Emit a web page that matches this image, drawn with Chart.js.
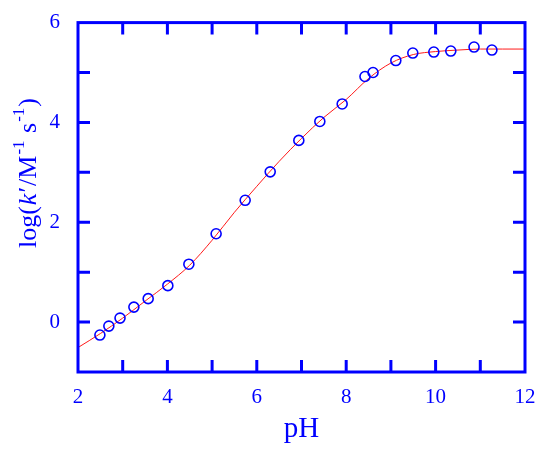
<!DOCTYPE html>
<html>
<head>
<meta charset="utf-8">
<script src="https://cdn.jsdelivr.net/npm/chart.js@4/dist/chart.umd.min.js"></script>
<style>
  html, body { margin: 0; padding: 0; background: #fff; }
  #wrap { width: 550px; height: 459px; }
</style>
</head>
<body>
<div id="wrap"><canvas id="grafico"></canvas></div>
<script>
// Pontos medidos
const pH = [2.49, 2.69, 2.94, 3.25, 3.57, 4.01, 4.48, 5.09, 5.74, 6.30, 6.94, 7.41, 7.91, 8.42, 8.60, 9.11, 9.49, 9.96, 10.34, 10.86, 11.26];
const logK = [-0.26, -0.08, 0.08, 0.30, 0.47, 0.73, 1.16, 1.77, 2.44, 3.01, 3.64, 4.02, 4.37, 4.92, 5.00, 5.24, 5.39, 5.41, 5.43, 5.51, 5.45];

// Curva ajustada
const ajustePH = [2.0, 2.5, 3.0, 3.5, 4.0, 4.5, 5.0, 5.5, 6.0, 6.5, 7.0, 7.5, 8.0, 8.5, 9.0, 9.5, 10.0, 10.5, 11.0, 11.5, 12.0];
const ajusteLogK = [-0.51, -0.23, 0.08, 0.42, 0.76, 1.14, 1.64, 2.20, 2.72, 3.22, 3.68, 4.10, 4.46, 4.88, 5.19, 5.36, 5.42, 5.45, 5.47, 5.47, 5.47];

// Rótulos dos eixos
const xTicks = [2, 4, 6, 8, 10, 12];
const yTicks = [0, 2, 4, 6];

const azul = '#0000ff';
const fonte = '"Liberation Serif", "Times New Roman", serif';

// Moldura com marcas internas
const moldura = {
    id: 'moldura',
    afterDraw(chart) {
        const { ctx, chartArea: a, scales } = chart;
        ctx.save();
        ctx.strokeStyle = azul;
        ctx.lineWidth = 3;
        ctx.strokeRect(a.left, a.top, a.right - a.left, a.bottom - a.top);
        const len = 12;
        ctx.beginPath();
        for (let v = 3; v < 12; v++) {
            const x = scales.x.getPixelForValue(v);
            ctx.moveTo(x, a.bottom); ctx.lineTo(x, a.bottom - len);
            ctx.moveTo(x, a.top); ctx.lineTo(x, a.top + len);
        }
        for (let v = 0; v < 6; v++) {
            const y = scales.y.getPixelForValue(v);
            ctx.moveTo(a.left, y); ctx.lineTo(a.left + len, y);
            ctx.moveTo(a.right, y); ctx.lineTo(a.right - len, y);
        }
        ctx.stroke();

        // Título do eixo y: log(k'/M-1 s-1)
        const partes = [
            { t: 'log(', f: '26px ' + fonte, dy: 0 },
            { t: 'k', f: 'italic 26px ' + fonte, dy: 0 },
            { t: '\u2032', f: '26px ' + fonte, dy: 0 },
            { t: '/M', f: '26px ' + fonte, dy: 0 },
            { t: '-1', f: '17px ' + fonte, dy: -12 },
            { t: ' s', f: '26px ' + fonte, dy: 0 },
            { t: '-1', f: '17px ' + fonte, dy: -12 },
            { t: ')', f: '26px ' + fonte, dy: 0 }
        ];
        let total = 0;
        partes.forEach(p => { ctx.font = p.f; p.w = ctx.measureText(p.t).width; total += p.w; });
        const alvo = 150;
        const extra = Math.max(0, (alvo - total) / (partes.length - 1));
        ctx.translate(36, 173);
        ctx.rotate(-Math.PI / 2);
        ctx.fillStyle = azul;
        ctx.textBaseline = 'alphabetic';
        let x = -(total + extra * (partes.length - 1)) / 2;
        partes.forEach(p => {
            ctx.font = p.f;
            ctx.fillText(p.t, x, p.dy);
            x += p.w + extra;
        });
        ctx.restore();

        // Título do eixo x
        ctx.save();
        ctx.fillStyle = azul;
        ctx.font = '29px ' + fonte;
        ctx.textAlign = 'center';
        ctx.textBaseline = 'alphabetic';
        ctx.fillText('pH', (a.left + a.right) / 2, 437);
        ctx.restore();
    }
};

const ctx = document.getElementById('grafico').getContext('2d');
const grafico = new Chart(ctx, {
    type: 'scatter',
    data: {
        datasets: [{
            label: 'dados',
            data: pH.map((v, i) => ({ x: v, y: logK[i] })),
            pointStyle: 'circle',
            pointRadius: 5,
            borderColor: azul,
            borderWidth: 1.6,
            backgroundColor: 'rgba(0,0,0,0)',
            showLine: false,
            order: 0
        }, {
            label: 'ajuste',
            data: ajustePH.map((v, i) => ({ x: v, y: ajusteLogK[i] })),
            showLine: true,
            borderColor: '#ff1a1a',
            borderWidth: 1,
            pointRadius: 0,
            cubicInterpolationMode: 'monotone',
            order: 1
        }]
    },
    options: {
        responsive: true,
        maintainAspectRatio: false,
        animation: false,
        layout: { padding: { top: 16, right: 25, left: 0, bottom: 0 } },
        plugins: { legend: { display: false }, tooltip: { enabled: false } },
        scales: {
            x: {
                type: 'linear',
                min: 2,
                max: 12,
                grid: { display: false },
                border: { display: false },
                afterBuildTicks: s => { s.ticks = xTicks.map(v => ({ value: v })); },
                afterFit: s => { s.height = 87; },
                ticks: {
                    color: azul,
                    font: { family: fonte, size: 21 },
                    padding: 5,
                    maxRotation: 0
                }
            },
            y: {
                type: 'linear',
                min: -1,
                max: 6,
                grid: { display: false },
                border: { display: false },
                afterBuildTicks: s => { s.ticks = yTicks.map(v => ({ value: v })); },
                afterFit: s => { s.width = 78; },
                ticks: {
                    color: azul,
                    font: { family: fonte, size: 21 },
                    padding: 10
                }
            }
        }
    },
    plugins: [moldura]
});
</script>
</body>
</html>
